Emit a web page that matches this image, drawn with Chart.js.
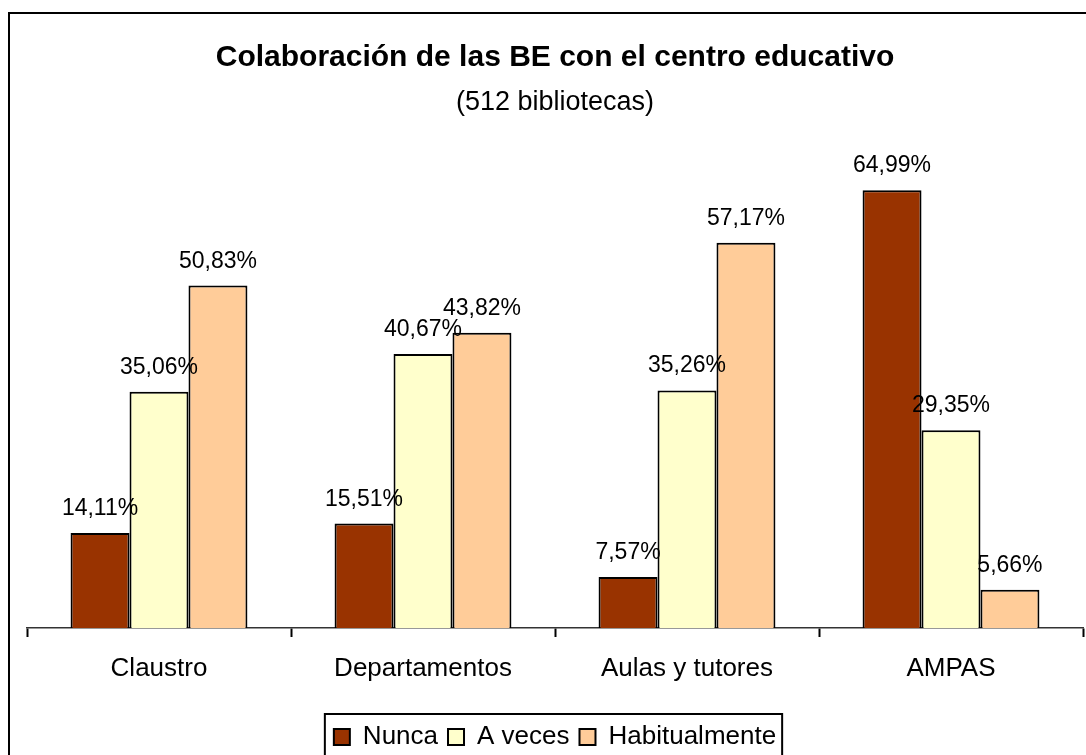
<!DOCTYPE html>
<html>
<head>
<meta charset="utf-8">
<script src="https://cdn.jsdelivr.net/npm/chart.js@4.4.0/dist/chart.umd.min.js"></script>
<style>
  html, body { margin: 0; padding: 0; background: #fff; overflow: hidden; }
  #wrap { width: 1086px; height: 760px; }
</style>
</head>
<body>
<div id="wrap"><canvas id="chart"></canvas></div>
<script>
const categories = ['Claustro', 'Departamentos', 'Aulas y tutores', 'AMPAS'];
const nunca = [14.11, 15.51, 7.57, 64.99];
const aVeces = [35.06, 40.67, 35.26, 29.35];
const habitualmente = [50.83, 43.82, 57.17, 5.66];
const seriesNames = ['Nunca', 'A veces', 'Habitualmente'];
const seriesColors = ['#993300', '#FFFFCC', '#FFCC99'];

const FONT = "'Liberation Sans', Arial, sans-serif";
Chart.defaults.font.family = FONT;
Chart.defaults.color = '#000';

// outer frame of the chart (its right and bottom edges are cut off in the original)
const frame = {
  id: 'frame',
  beforeDraw(chart) {
    const ctx = chart.ctx;
    ctx.save();
    ctx.fillStyle = '#fff';
    ctx.fillRect(0, 0, chart.width, chart.height);
    ctx.strokeStyle = '#000';
    ctx.lineWidth = 2;
    ctx.strokeRect(9, 13, chart.width + 50, chart.height + 50);
    ctx.restore();
  }
};

// percentage labels above each bar
const valueLabels = {
  id: 'valueLabels',
  afterDatasetsDraw(chart) {
    const ctx = chart.ctx;
    ctx.save();
    ctx.font = '23px ' + FONT;
    ctx.fillStyle = '#000';
    ctx.textAlign = 'center';
    ctx.textBaseline = 'alphabetic';
    chart.data.datasets.forEach((ds, i) => {
      chart.getDatasetMeta(i).data.forEach((bar, j) => {
        const txt = ds.data[j].toFixed(2).replace('.', ',') + '%';
        ctx.fillText(txt, bar.x, bar.y - 18);
      });
    });
    ctx.restore();
  }
};

// box round the legend
const legendBox = {
  id: 'legendBox',
  afterDraw(chart) {
    const boxes = chart.legend.legendHitBoxes;
    if (!boxes || !boxes.length) return;
    const first = boxes[0], last = boxes[boxes.length - 1];
    const left = first.left - 9;
    const right = last.left + last.width + 6;
    const top = first.top + first.height / 2 - 23;
    const ctx = chart.ctx;
    ctx.save();
    ctx.strokeStyle = '#000';
    ctx.lineWidth = 2;
    ctx.strokeRect(left, top, right - left, chart.height + 20 - top);
    ctx.restore();
  }
};

new Chart(document.getElementById('chart'), {
  type: 'bar',
  data: {
    labels: categories,
    datasets: [nunca, aVeces, habitualmente].map((values, i) => ({
      label: seriesNames[i],
      data: values,
      backgroundColor: seriesColors[i],
      borderColor: '#000',
      borderWidth: 2,
      categoryPercentage: 0.67,
      barPercentage: 1.0
    }))
  },
  options: {
    responsive: true,
    maintainAspectRatio: false,
    animation: false,
    layout: { padding: { left: 27, right: 3, top: 0, bottom: 0 } },
    plugins: {
      title: {
        display: true,
        text: 'Colaboración de las BE con el centro educativo',
        font: { size: 30, weight: 'bold' },
        color: '#000',
        padding: { top: 40, bottom: 5 }
      },
      subtitle: {
        display: true,
        text: '(512 bibliotecas)',
        font: { size: 27, weight: 'normal' },
        color: '#000',
        padding: { top: 5, bottom: 38 }
      },
      legend: {
        position: 'bottom',
        labels: {
          boxWidth: 16,
          boxHeight: 16,
          padding: 10,
          font: { size: 26 },
          color: '#000'
        }
      },
      tooltip: { enabled: false }
    },
    scales: {
      x: {
        grid: {
          display: true,
          drawOnChartArea: false,
          drawTicks: true,
          tickLength: 9,
          tickColor: '#000',
          tickWidth: 2,
          offset: true
        },
        border: { display: true, color: '#333', width: 1.5 },
        ticks: { font: { size: 26 }, color: '#000', padding: 16 },
        afterFit(scale) { scale.height = 86; }
      },
      y: { display: false, min: 0, max: 70 }
    }
  },
  plugins: [frame, valueLabels, legendBox]
});
</script>
</body>
</html>
